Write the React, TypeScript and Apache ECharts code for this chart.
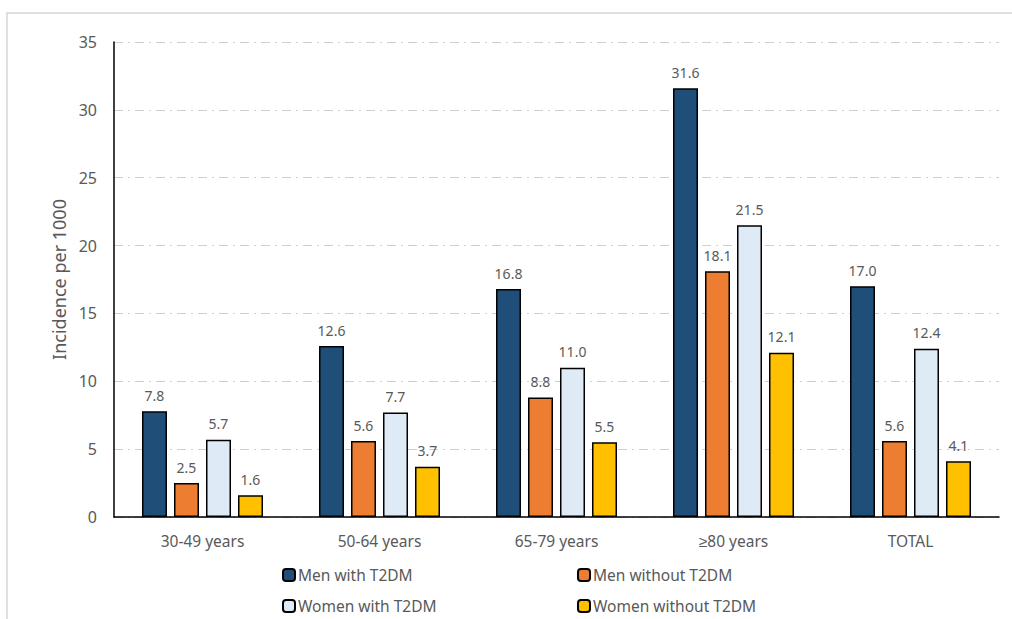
import React, { useEffect, useRef } from "react";
import * as echarts from "echarts";

const categories = ["30-49 years", "50-64 years", "65-79 years", "≥80 years", "TOTAL"];
const seriesNames = ["Men with T2DM", "Men without T2DM", "Women with T2DM", "Women without T2DM"];
const menWith = [7.8, 12.6, 16.8, 31.6, 17.0];
const menWithout = [2.5, 5.6, 8.8, 18.1, 5.6];
const womenWith = [5.7, 7.7, 11.0, 21.5, 12.4];
const womenWithout = [1.6, 3.7, 5.5, 12.1, 4.1];
const colors = ["#1F4E79", "#ED7D31", "#DEEBF7", "#FFC000"];
const yTicks = [0, 5, 10, 15, 20, 25, 30, 35];

const FONT = "'Noto Sans', sans-serif";
const GRAY = "#595959";

export default function App() {
  const ref = useRef<HTMLDivElement>(null);
  useEffect(() => {
    if (!ref.current) return;
    const chart = echarts.init(ref.current, undefined, { renderer: "svg" });
    const values = [menWith, menWithout, womenWith, womenWithout];
    const series = values.map((data, i) => ({
      name: seriesNames[i],
      type: "bar",
      data,
      barWidth: 25,
      barGap: "28%",
      itemStyle: { color: colors[i], borderColor: "#000", borderWidth: 1.5 },
      label: {
        show: true,
        position: "top",
        distance: 9,
        color: GRAY,
        fontSize: 14,
        fontFamily: FONT,
        formatter: (p: any) => Number(p.value).toFixed(1),
      },
    }));
    const legendPos = [
      { left: 282, top: 567 },
      { left: 577, top: 567 },
      { left: 282, top: 598 },
      { left: 577, top: 598 },
    ];
    const legends = seriesNames.map((n, i) => ({
      ...legendPos[i],
      orient: "horizontal",
      padding: 0,
      itemWidth: 12,
      itemHeight: 12,
      data: [n],
      textStyle: {
        color: GRAY,
        fontSize: 15.5,
        lineHeight: 16,
        fontFamily: FONT,
        padding: [0, 0, 0, -2],
      },
    }));
    chart.setOption({
      animation: false,
      textStyle: { fontFamily: FONT },
      graphic: [
        {
          type: "rect",
          shape: { x: 7, y: 13, width: 1010, height: 620 },
          style: { fill: "none", stroke: "#d6d6d6", lineWidth: 1.5 },
          silent: true,
        },
      ],
      grid: { left: 114, right: 13, top: 42, bottom: 102 },
      legend: legends,
      xAxis: {
        type: "category",
        data: categories,
        axisLine: { lineStyle: { color: "#000", width: 1.5 } },
        axisTick: { show: false },
        axisLabel: { color: GRAY, fontSize: 15.5, fontFamily: FONT, margin: 16 },
      },
      yAxis: {
        type: "value",
        min: yTicks[0],
        max: yTicks[yTicks.length - 1],
        interval: 5,
        name: "Incidence per 1000",
        nameLocation: "middle",
        nameGap: 44,
        nameTextStyle: { color: GRAY, fontSize: 18, fontFamily: FONT },
        axisLine: { show: true, lineStyle: { color: "#000", width: 1.5 } },
        axisTick: { show: false },
        axisLabel: { color: GRAY, fontSize: 16, fontFamily: FONT, margin: 17 },
        splitLine: { lineStyle: { color: "#cfcfcf", width: 1.2, type: [9, 5, 2, 5] } },
      },
      series,
    });
    return () => chart.dispose();
  }, []);
  return (
    <div
      ref={ref}
      style={{ position: "fixed", left: 0, top: 0, width: 1012, height: 619, background: "#fff" }}
    />
  );
}
